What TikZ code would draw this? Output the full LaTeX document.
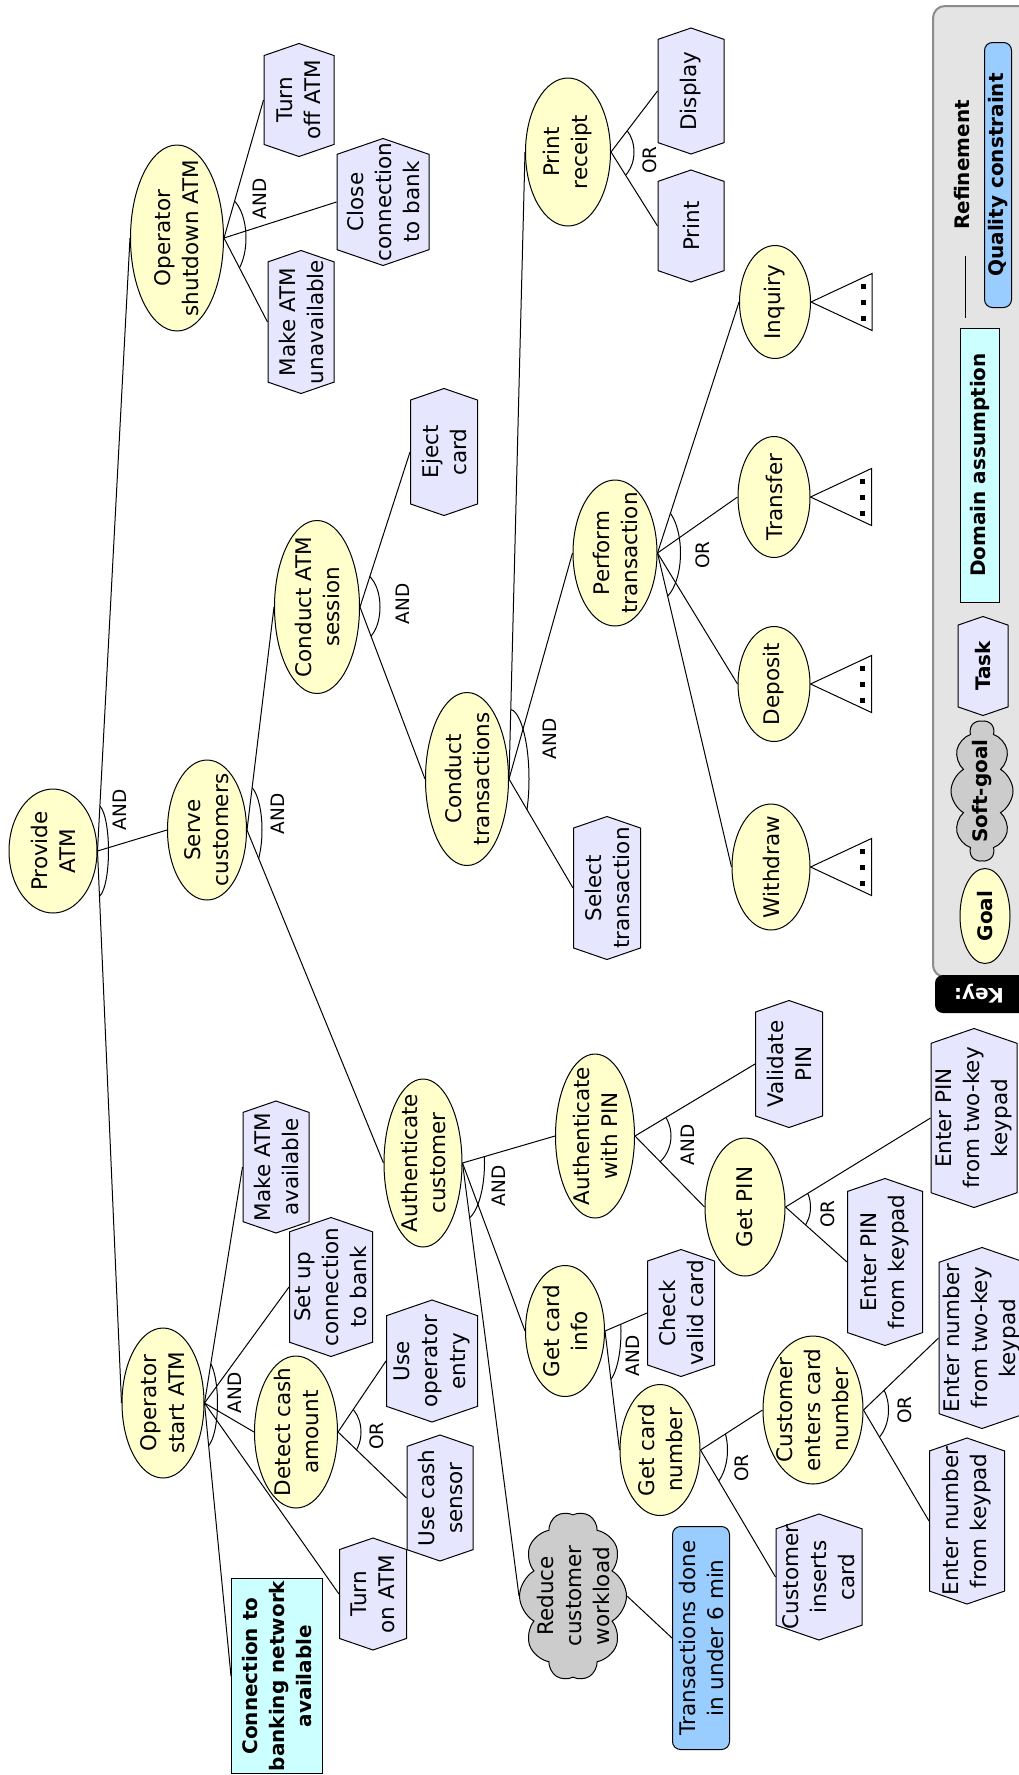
\documentclass[tikz,border=0pt]{standalone}
\usepackage{fontspec}
\setmainfont{DejaVu Sans}
\usepackage{tikz}
\usetikzlibrary{calc,shapes.geometric,shapes.symbols}
\usepackage{xcolor}

\definecolor{goalc}{HTML}{FFFFCC}
\definecolor{taskc}{HTML}{E6E6FF}
\definecolor{assumc}{HTML}{CCFFFF}
\definecolor{qualc}{HTML}{99CCFF}
\definecolor{softc}{HTML}{CCCCCC}
\definecolor{keyc}{HTML}{E4E4E4}
\definecolor{keyline}{HTML}{8C8C8C}

\newcommand\nodefont{\fontsize{21.5}{28}\selectfont}
\newcommand\gatefont{\fontsize{18.5}{22}\selectfont}
\newcommand\keyfont{\fontsize{20}{24}\selectfont\bfseries}

\tikzset{
  goal/.style={ellipse, draw=black, fill=goalc, line width=1pt, inner sep=0pt, rotate=90},
  task/.style={signal, signal to=east and west, signal pointer angle=142,
    draw=black, fill=taskc, line width=1pt, inner sep=0pt, rotate=90},
  assum/.style={rectangle, draw=black, fill=assumc, line width=1pt, inner sep=0pt, rotate=90},
  qual/.style={rectangle, rounded corners=8pt, draw=black, fill=qualc, line width=1pt, inner sep=0pt, rotate=90},
  soft/.style={cloud, cloud puffs=10, cloud puff arc=120, aspect=1.6,
    draw=black, fill=softc, line width=1pt, inner sep=0pt, rotate=90},
  txt/.style={rotate=90, align=center, inner sep=0pt, font=\nodefont},
  gate/.style={rotate=90, inner sep=0pt, font=\gatefont},
  keytxt/.style={rotate=90, align=center, inner sep=0pt, font=\keyfont},
  link/.style={line width=1pt},
}

\begin{document}
\begin{tikzpicture}[x=1pt, y=-1pt]
  \useasboundingbox (0,0) rectangle (1019,1775);

  % goals
  \foreach \n/\x/\y/\w/\h/\t in {
    provide/53/851/88/124/{Provide\\ATM},
    osa/177/238/93/186/{Operator\\shutdown ATM},
    serve/207/830/79/140/{Serve\\customers},
    opstart/163/1403/82/150/{Operator\\start ATM},
    session/317/607/85/173/{Conduct ATM\\session},
    trans/467/779/83/173/{Conduct\\transactions},
    receipt/568/152/85/148/{Print\\receipt},
    perform/615/553/84/146/{Perform\\transaction},
    inquiry/775/302/71/113/{Inquiry},
    transfer/774/497/72/121/{Transfer},
    deposit/774/684/72/115/{Deposit},
    withdraw/771/867/78/126/{Withdraw},
    detect/296/1432/83/152/{Detect cash\\amount},
    authcust/423/1163/78/168/{Authenticate\\customer},
    authpin/595/1136/79/164/{Authenticate\\with PIN},
    getpin/745/1207/80/138/{Get PIN},
    cardinfo/565/1331/79/131/{Get card\\info},
    cardnum/660/1450/80/131/{Get card\\number},
    cecn/813/1410/100/148/{Customer\\enters card\\number}}{
    \node[goal, minimum width=\h pt, minimum height=\w pt] (\n) at (\x,\y) {};
    \node[txt] (\n-t) at (\n) {\t};
  }

  % tasks
  \foreach \n/\x/\y/\w/\h/\t in {
    turnoff/299/100/70/113/{Turn\\off ATM},
    closeconn/383/202/92/127/{Close\\connection\\to bank},
    unavail/301/322/66/143/{Make ATM\\unavailable},
    eject/444/452/67/127/{Eject\\card},
    display/691/91/66/126/{Display},
    print/691/226/66/112/{Print},
    select/607/888/67/143/{Select\\transaction},
    validate/789/1064/67/127/{Validate\\PIN},
    pintwo/974/1118/86/179/{Enter PIN\\from two-key\\keypad},
    pinkey/885/1262/75/167/{Enter PIN\\from keypad},
    available/276/1167/66/132/{Make ATM\\available},
    setup/331/1287/83/139/{Set up\\connection\\to bank},
    opentry/432/1361/91/122/{Use\\operator\\entry},
    sensor/440/1498/66/126/{Use cash\\sensor},
    turnon/373/1594/67/112/{Turn\\on ATM},
    checkcard/681/1313/67/127/{Check\\valid card},
    inserts/819/1577/86/126/{Customer\\inserts\\card},
    numtwo/982/1338/86/181/{Enter number\\from two-key\\keypad},
    numkey/967/1521/75/166/{Enter number\\from keypad}}{
    \node[task, minimum width=\h pt, minimum height=\w pt] (\n) at (\x,\y) {};
    \node[txt] (\n-t) at (\n) {\t};
  }

  % assumption, soft-goal, quality constraint
  \node[assum, minimum width=195pt, minimum height=91pt] (network) at (277,1676) {};
  \node[txt, font=\fontsize{20}{27}\selectfont\bfseries] (network-t) at (network)
    {Connection to\\banking network\\available};
  \node[soft, minimum width=169pt, minimum height=107pt] (workload) at (573,1596) {};
  \node[txt] (workload-t) at (workload) {Reduce\\customer\\workload};
  \node[qual, minimum width=223pt, minimum height=57pt] (qc) at (701,1638) {};
  \node[txt] (qc-t) at (qc) {Transactions done\\in under 6 min};

  % refinements
  \foreach \p/\c in {provide/osa, provide/serve, provide/opstart,
    osa/turnoff, osa/closeconn, osa/unavail,
    serve/session, serve/authcust, session/eject, session/trans,
    trans/receipt, trans/perform, trans/select,
    receipt/display, receipt/print,
    perform/inquiry, perform/transfer, perform/deposit, perform/withdraw,
    opstart/available, opstart/setup, opstart/detect, opstart/turnon, opstart/network,
    detect/opentry, detect/sensor,
    authcust/authpin, authcust/cardinfo, authcust/workload,
    authpin/validate, authpin/getpin, getpin/pintwo, getpin/pinkey,
    cardinfo/checkcard, cardinfo/cardnum, cardnum/cecn, cardnum/inserts,
    cecn/numtwo, cecn/numkey, workload/qc}{
    \draw[link] (\p.south) -- (\c.north);
  }

  % AND/OR arcs
  \foreach \p/\a/\b/\ra/\rb in {provide/osa/opstart/11/46, osa/turnoff/unavail/22/42,
    serve/session/authcust/15/45, opstart/available/network/13/45,
    session/eject/trans/20/35, trans/receipt/select/20/70,
    receipt/display/print/23/30, perform/inquiry/withdraw/23/48,
    detect/opentry/sensor/23/30, authcust/authpin/workload/22/58,
    authpin/validate/getpin/36/36, getpin/pintwo/pinkey/25/30,
    cardinfo/checkcard/cardnum/16/52, cardnum/cecn/inserts/27/42,
    cecn/numtwo/numkey/25/35}{
    \begin{scope}
      \clip (\p.south) -- (\a.north) -- (\b.north) -- cycle;
      \draw[link] (\p.south) ellipse [x radius=\ra, y radius=\rb];
    \end{scope}
  }
  \foreach \x/\y/\t [count=\i] in {120/810/AND, 260/199/AND, 278/814/AND,
    235/1393/AND, 403/604/AND, 550/739/AND, 650/160/OR, 703/555/OR,
    377/1436/OR, 499/1186/AND, 688/1145/AND, 828/1214/OR, 633/1356/AND,
    742/1468/OR, 905/1410/OR}{
    \node[gate] (gate\i) at (\x,\y) {\t};
  }

  % unexpanded goals
  \foreach \n in {inquiry, transfer, deposit, withdraw}{
    \draw[link] (\n.south) -- ++(61,-28.5) -- ++(0,57) -- cycle;
    \foreach \d in {-16,0,16}
      \fill ($(\n.south)+(52,\d)$) ++(-2.5,-2.5) rectangle ++(5,5);
  }

  % key
  \draw[fill=keyc, draw=keyline, line width=2pt, rounded corners=12pt] (933,6) rectangle (1050,977);
  \fill[black, rounded corners=8pt] (935,975) rectangle (1050,1013);
  \node[rotate=180, text=white, inner sep=0pt, font=\keyfont] (keylbl) at (979,994) {Key:};
  \node[goal, minimum width=95pt, minimum height=50pt] (kgoal) at (985,916) {};
  \node[keytxt] (kgoal-t) at (kgoal) {Goal};
  \node[soft, minimum width=140pt, minimum height=62pt] (ksoft) at (982,791) {};
  \node[keytxt] (ksoft-t) at (ksoft) {Soft-goal};
  \node[task, minimum width=99pt, minimum height=50pt] (ktask) at (983,666) {};
  \node[keytxt] (ktask-t) at (ktask) {Task};
  \node[assum, minimum width=274pt, minimum height=39pt] (kda) at (980,465) {};
  \node[keytxt] (kda-t) at (kda) {Domain assumption};
  \coordinate (kr1) at (965,256);
  \coordinate (kr2) at (965,318);
  \draw[link] (kr1) -- (kr2);
  \node[keytxt] (kref-t) at (962,165) {Refinement};
  \node[qual, minimum width=265pt, minimum height=27pt] (kqc) at (998,175) {};
  \node[keytxt] (kqc-t) at (kqc) {Quality constraint};
\end{tikzpicture}
\end{document}
